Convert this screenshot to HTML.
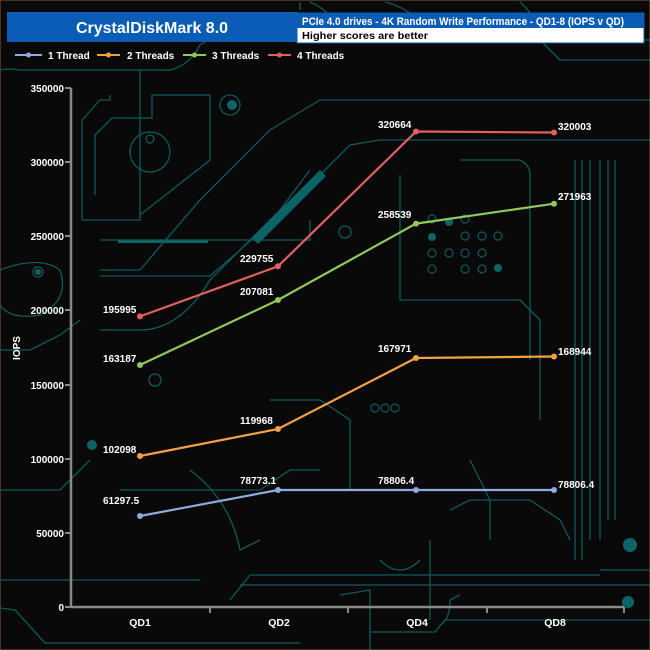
<!DOCTYPE html>
<html><head><meta charset="utf-8"><style>
html,body{margin:0;padding:0;background:#080808;}
svg{display:block}
text{font-family:"Liberation Sans",Arial,sans-serif;font-weight:bold;}
</style></head><body>
<svg width="650" height="650" viewBox="0 0 650 650" xmlns="http://www.w3.org/2000/svg">
<rect x="0" y="0" width="650" height="650" fill="#0a0909"/>
<rect x="0.5" y="0.5" width="649" height="649" fill="none" stroke="#4a3220" stroke-width="1"/>
<g fill="none" stroke="#0c5a5c" stroke-width="1.3">
<path d="M300 2 L300 10 M310 2 Q330 10 350 40"/>
<path d="M385 2 Q400 5 420 20 L440 40 L650 40"/>
<path d="M520 2 Q540 20 540 40 L560 60 L650 60"/>
<path d="M0 70 Q10 68 20 70 L170 70 Q190 65 200 45 L205 42"/>
<path d="M82 220 L82 120 L100 100 L110 100 L110 95 M82 220 L140 220 L140 70"/>
<path d="M95 195 L95 135 L112 118 L152 118 L152 95 L210 95 L210 160 L140 215"/>
<path d="M100 240 L310 240 L310 220"/>
<path d="M100 270 L140 270 L200 200 L270 130 L320 100 L650 100"/>
<path d="M100 276 L210 276 L240 250 L300 195 L350 145 L380 140 L650 140"/>
<path d="M100 330 L140 330 Q180 330 210 280 L280 210 L310 170"/>
<path d="M0 350 L30 350 L60 335 L80 320"/>
<path d="M0 270 Q40 255 60 270 Q70 300 40 315 Q10 320 0 305"/>
<path d="M460 160 L520 160 Q530 165 530 175 L530 360"/>
<path d="M575 160 L575 560 M582 160 L582 560 M590 160 L590 540 M600 160 L600 540 M608 160 L608 520 M615 160 L615 520"/>
<path d="M400 175 L400 300 L520 300 L540 320 L540 420"/>
<path d="M0 490 L60 490 L90 460"/>
<path d="M120 490 L260 490 L290 470 L320 470"/>
<path d="M240 585 L650 585 M600 570 L650 570"/>
<path d="M230 600 L250 575 L600 575"/>
<path d="M0 608 L15 610 L45 643 L300 643"/>
<path d="M0 580 L200 580"/>
<path d="M340 595 L370 590 L370 650"/>
<path d="M440 625 Q450 620 450 600 L460 595"/>
<path d="M370 632 L435 632 L445 620 L650 620"/>
<path d="M450 510 L470 500 L530 500 L560 520 L570 540"/>
<path d="M270 400 L320 400 L350 420 L350 490"/>
<path d="M430 540 L430 620 M470 460 L490 500 L490 540"/>
<circle cx="150" cy="152" r="20"/><circle cx="150" cy="139" r="4"/>
<circle cx="230" cy="105" r="10"/><circle cx="155" cy="380" r="6"/>
<circle cx="38" cy="272" r="5"/><circle cx="345" cy="232" r="6"/>
<path d="M190 470 Q230 500 240 550 L260 540"/>
<path d="M380 560 Q400 580 420 560"/>
</g>
<g fill="#0c6466">
<circle cx="232" cy="105" r="5"/><circle cx="630" cy="545" r="7"/><circle cx="628" cy="602" r="6"/><circle cx="92" cy="445" r="5"/>
<circle cx="449" cy="222" r="4"/><circle cx="432" cy="237" r="4"/><circle cx="498" cy="268" r="4"/><circle cx="38" cy="272" r="3"/>
<path d="M252 238 L320 170 L326 176 L258 244 Z"/>
<rect x="118" y="240" width="90" height="3"/>
</g>
<g fill="none" stroke="#0c5a5c" stroke-width="1.2">
<circle cx="432" cy="219" r="4"/><circle cx="465" cy="219" r="4"/><circle cx="432" cy="253" r="4"/><circle cx="465" cy="253" r="4"/><circle cx="449" cy="253" r="4"/><circle cx="482" cy="236" r="4"/><circle cx="498" cy="236" r="4"/><circle cx="465" cy="236" r="4"/><circle cx="482" cy="253" r="4"/><circle cx="482" cy="269" r="4"/><circle cx="432" cy="269" r="4"/><circle cx="465" cy="269" r="4"/>
<circle cx="375" cy="408" r="4"/><circle cx="385" cy="408" r="4"/><circle cx="395" cy="408" r="4"/>
</g>

<rect x="7" y="12" width="291" height="30" fill="#0a5cb5"/>
<text x="152" y="33" text-anchor="middle" font-size="16" fill="#ffffff">CrystalDiskMark 8.0</text>
<rect x="297" y="13" width="347" height="30" fill="#ffffff" stroke="#0a5cb5" stroke-width="1"/>
<rect x="297" y="13" width="347" height="15" fill="#0a5cb5"/>
<text x="302" y="25" font-size="11" fill="#ffffff" textLength="322" lengthAdjust="spacingAndGlyphs">PCIe 4.0 drives - 4K Random Write Performance - QD1-8 (IOPS v QD)</text>
<text x="302" y="39" font-size="10.5" fill="#000000" textLength="126" lengthAdjust="spacingAndGlyphs">Higher scores are better</text>

<g font-size="10" fill="#ffffff">
<line x1="15" y1="55" x2="42" y2="55" stroke="#8faadc" stroke-width="2"/><circle cx="28.5" cy="55" r="2.5" fill="#8faadc"/>
<text x="48" y="59">1 Thread</text>
<line x1="97" y1="55" x2="120" y2="55" stroke="#f4a046" stroke-width="2"/><circle cx="108.5" cy="55" r="2.5" fill="#f4a046"/>
<text x="127" y="59">2 Threads</text>
<line x1="183" y1="55" x2="206" y2="55" stroke="#8fc95a" stroke-width="2"/><circle cx="194.5" cy="55" r="2.5" fill="#8fc95a"/>
<text x="212" y="59">3 Threads</text>
<line x1="268" y1="55" x2="291" y2="55" stroke="#e0605e" stroke-width="2"/><circle cx="279.5" cy="55" r="2.5" fill="#e0605e"/>
<text x="297" y="59">4 Threads</text>
</g>

<g stroke="#8a8a8a" stroke-width="2.5" fill="none">
<line x1="71" y1="88" x2="71" y2="608"/>
<line x1="70" y1="607" x2="624" y2="607"/>
</g>
<g stroke="#8a8a8a" stroke-width="2">
<line x1="65" y1="88" x2="71" y2="88"/><line x1="65" y1="162" x2="71" y2="162"/><line x1="65" y1="236" x2="71" y2="236"/><line x1="65" y1="310" x2="71" y2="310"/><line x1="65" y1="385" x2="71" y2="385"/><line x1="65" y1="459" x2="71" y2="459"/><line x1="65" y1="533" x2="71" y2="533"/><line x1="65" y1="607" x2="71" y2="607"/>
<line x1="210" y1="607" x2="210" y2="613"/><line x1="348" y1="607" x2="348" y2="613"/><line x1="487" y1="607" x2="487" y2="613"/><line x1="624" y1="607" x2="624" y2="613"/>
</g>
<g font-size="10" fill="#ffffff" text-anchor="end">
<text x="64" y="92">350000</text><text x="64" y="166">300000</text><text x="64" y="240">250000</text><text x="64" y="314">200000</text><text x="64" y="389">150000</text><text x="64" y="463">100000</text><text x="64" y="537">50000</text><text x="64" y="611">0</text>
</g>
<text x="20" y="348" font-size="10" fill="#ffffff" transform="rotate(-90 20 348)" text-anchor="middle">IOPS</text>
<g font-size="10.5" fill="#ffffff" text-anchor="middle">
<text x="140" y="626">QD1</text><text x="279" y="626">QD2</text><text x="417" y="626">QD4</text><text x="555" y="626">QD8</text>
</g>

<g fill="none" stroke-width="2.2">
<polyline stroke="#8faadc" points="140,516 278,490 416,490 554,490"/>
<polyline stroke="#f4a046" points="140,456 278,429 416,358 554,356.5"/>
<polyline stroke="#8fc95a" points="140,365 278,300 416,223.6 554,203.7"/>
<polyline stroke="#e0605e" points="140,316.4 278,266.3 416,131.5 554,132.5"/>
</g>
<g>
<g fill="#8faadc"><circle cx="140" cy="516" r="3"/><circle cx="278" cy="490" r="3"/><circle cx="416" cy="490" r="3"/><circle cx="554" cy="490" r="3"/></g>
<g fill="#f4a046"><circle cx="140" cy="456" r="3"/><circle cx="278" cy="429" r="3"/><circle cx="416" cy="358" r="3"/><circle cx="554" cy="356.5" r="3"/></g>
<g fill="#8fc95a"><circle cx="140" cy="365" r="3"/><circle cx="278" cy="300" r="3"/><circle cx="416" cy="223.6" r="3"/><circle cx="554" cy="203.7" r="3"/></g>
<g fill="#e0605e"><circle cx="140" cy="316.4" r="3"/><circle cx="278" cy="266.3" r="3"/><circle cx="416" cy="131.5" r="3"/><circle cx="554" cy="132.5" r="3"/></g>
</g>
<g font-size="10" fill="#ffffff">
<text x="103" y="504">61297.5</text><text x="240" y="484">78773.1</text><text x="378" y="484">78806.4</text><text x="558" y="488">78806.4</text>
<text x="103" y="453">102098</text><text x="240" y="424">119968</text><text x="378" y="352">167971</text><text x="558" y="355">168944</text>
<text x="103" y="362">163187</text><text x="240" y="295">207081</text><text x="378" y="218">258539</text><text x="558" y="200">271963</text>
<text x="103" y="313">195995</text><text x="240" y="262">229755</text><text x="378" y="128">320664</text><text x="558" y="130">320003</text>
</g>
</svg>
</body></html>
